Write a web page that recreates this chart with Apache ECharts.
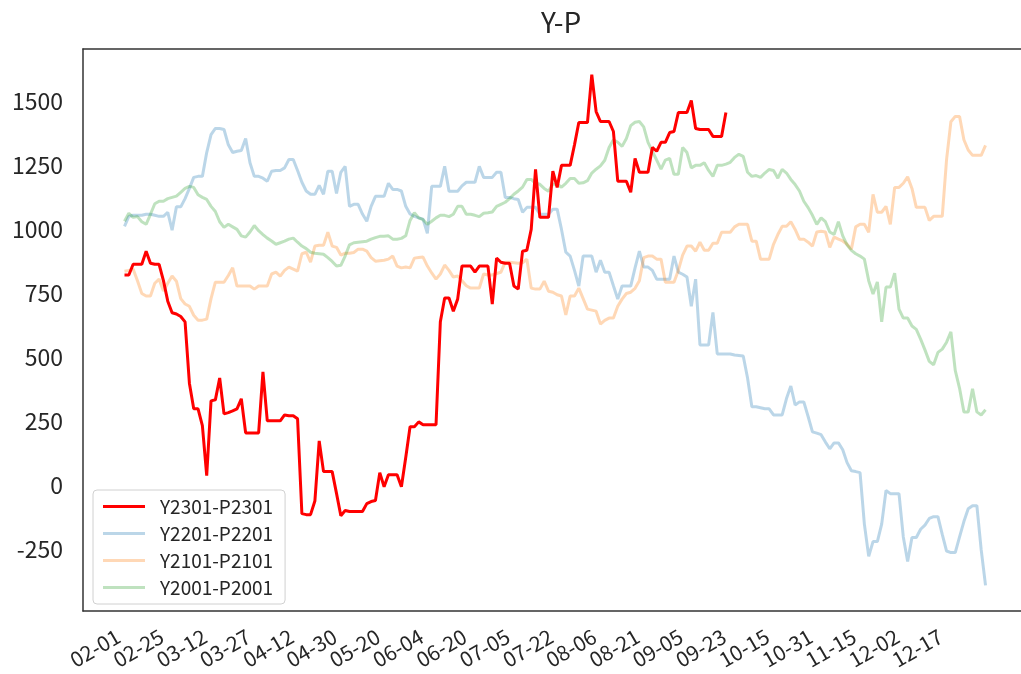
<!DOCTYPE html>
<html>
<head>
<meta charset="utf-8">
<script src="https://cdn.jsdelivr.net/npm/echarts@6/dist/echarts.min.js"></script>
<style>
  html, body { margin: 0; padding: 0; background: #fff; }
  #chart { width: 1021px; height: 674px; }
</style>
</head>
<body>
<div id="chart"></div>
<script>
// tick labels, one every 10 trading days
var tickLabels = ['02-01','02-25','03-12','03-27','04-12','04-30','05-20','06-04','06-20','07-05',
  '07-22','08-06','08-21','09-05','09-23','10-15','10-31','11-15','12-02','12-17'];

var y2301 = [822,822,864,864,864,915,868,864,864,800,720,675,670,660,639,400,300,300,234,39,
  331,335,420,280,285,292,300,339,206,206,206,206,444,253,253,253,253,276,273,273,
  261,-109,-113,-113,-60,175,55,55,55,-30,-117,-97,-101,-101,-101,-101,-70,-62,-58,51,
  -4,43,43,43,-4,110,230,230,249,238,238,238,238,640,732,732,681,728,857,857,
  857,833,857,857,857,709,888,872,868,868,779,767,915,919,1000,1234,1047,1047,1047,1227,
  1164,1250,1250,1250,1330,1417,1417,1417,1604,1460,1421,1421,1421,1382,1188,1188,1188,1145,1277,1223,
  1223,1223,1320,1305,1340,1340,1378,1382,1456,1456,1456,1503,1394,1390,1390,1390,1363,1363,1363,1456];

var y2201 = [1012,1051,1055,1055,1055,1059,1059,1055,1051,1051,1067,997,1088,1088,1120,1160,1203,1207,1207,1300,
  1370,1394,1394,1390,1330,1300,1305,1308,1355,1260,1207,1207,1200,1188,1227,1230,1230,1240,1273,1273,
  1230,1184,1150,1137,1137,1172,1137,1227,1227,1140,1223,1246,1090,1098,1098,1060,1032,1090,1129,1129,
  1129,1180,1156,1156,1150,1090,1060,1051,1045,1040,985,1168,1168,1168,1246,1149,1149,1149,1170,1184,
  1184,1184,1246,1203,1203,1203,1223,1223,1125,1125,1120,1117,1067,1086,1086,1086,1059,1059,1059,1079,
  1079,1000,911,896,840,779,896,896,896,833,880,833,833,780,728,779,779,779,850,915,
  853,853,840,806,806,806,806,896,833,825,814,700,806,549,549,549,676,514,514,514,
  514,510,508,506,420,308,308,304,300,300,276,276,276,340,389,315,327,327,270,210,
  205,199,170,144,167,167,140,90,58,55,51,-150,-276,-218,-218,-150,-19,-31,-31,-31,
  -200,-296,-202,-202,-170,-154,-128,-121,-121,-190,-255,-261,-261,-200,-140,-90,-78,-78,-250,-389];

var y2101 = [837,840,845,800,750,740,740,790,806,760,790,818,798,730,709,700,665,646,646,650,
  730,794,794,794,820,850,779,779,779,779,767,779,779,779,826,833,818,840,853,845,
  837,905,911,872,935,938,938,989,935,930,900,907,907,910,923,923,915,890,876,878,
  880,884,896,857,850,853,850,888,890,892,857,830,806,826,861,840,814,818,800,780,
  771,771,771,826,822,822,828,833,872,872,870,868,870,884,771,767,767,798,759,755,
  745,740,666,740,740,771,730,689,685,681,631,645,654,654,700,728,750,755,770,800,
  890,896,896,884,884,794,794,794,840,900,935,935,915,950,919,919,946,946,989,989,
  989,1010,1020,1020,1020,954,954,884,884,884,942,980,1012,1012,1030,1000,962,962,950,935,
  990,993,990,930,970,962,955,942,923,1010,1020,1020,989,1137,1067,1067,1090,1020,1164,1164,
  1180,1205,1160,1086,1086,1086,1035,1051,1051,1051,1273,1420,1441,1441,1350,1310,1289,1289,1289,1328];

var y2001 = [1032,1063,1047,1050,1030,1020,1059,1100,1110,1110,1120,1125,1130,1145,1160,1168,1164,1135,1125,1117,
  1090,1070,1030,1008,1020,1010,1000,975,970,990,1015,995,980,966,955,942,948,954,962,966,
  950,935,925,911,907,905,903,890,875,857,860,896,940,948,950,952,954,962,968,973,
  973,975,962,962,965,975,1035,1065,1045,1038,1020,1032,1045,1055,1055,1050,1059,1090,1090,1059,
  1059,1055,1050,1063,1065,1068,1090,1098,1106,1120,1137,1150,1165,1195,1195,1180,1176,1160,1149,1176,
  1176,1165,1180,1199,1199,1180,1182,1190,1220,1235,1248,1270,1320,1350,1340,1324,1355,1405,1418,1421,
  1400,1340,1305,1270,1235,1270,1277,1215,1215,1320,1300,1240,1250,1250,1260,1230,1207,1250,1250,1255,
  1262,1281,1293,1285,1223,1207,1210,1203,1220,1234,1230,1200,1234,1220,1195,1175,1150,1110,1085,1055,
  1020,1045,1030,990,980,1030,975,940,918,905,896,884,800,748,795,639,775,775,829,689,
  654,654,623,610,572,530,485,472,520,533,560,600,450,380,288,288,378,288,276,296];

var yTicks = [-250, 0, 250, 500, 750, 1000, 1250, 1500];
var xTicks = tickLabels.map(function (t, i) { return i * 10; });

function pairs(arr) {
	return arr.map(function (v, i) { return [i, v]; });
}

var chart = echarts.init(document.getElementById('chart'));
var font = "'Noto Sans CJK SC', sans-serif";
var frame = { show: true, onZero: false, lineStyle: { color: '#333', width: 1.5 } };

chart.setOption({
	animation: false,
	textStyle: { fontFamily: font },
	title: {
		text: 'Y-P',
		left: 556,
		textAlign: 'center',
		top: 3,
		textStyle: { fontSize: 28, fontWeight: 'normal', color: '#262626', fontFamily: font }
	},
	grid: { left: 83, top: 49, right: 0, bottom: 63 },
	legend: {
		orient: 'vertical',
		left: 93, top: 490,
		data: ['Y2301-P2301', 'Y2201-P2201', 'Y2101-P2101', 'Y2001-P2001'],
		icon: 'rect',
		itemWidth: 42, itemHeight: 3,
		itemGap: 8,
		padding: [7, 12, 7, 10],
		backgroundColor: 'rgba(255,255,255,0.85)',
		borderColor: '#d0d0d0', borderWidth: 1, borderRadius: 4,
		textStyle: { fontSize: 19, color: '#262626', padding: [0, 0, 0, 10], fontFamily: font }
	},
	xAxis: [{
		type: 'value',
		min: -9.59, max: 207.2,
		axisLine: frame,
		axisTick: { show: false },
		splitLine: { show: false },
		axisLabel: {
			customValues: xTicks,
			showMinLabel: true,
			showMaxLabel: true,
			rotate: 30,
			margin: 20,
			padding: [0, 7, 0, 0],
			fontSize: 21,
			color: '#262626',
			formatter: function (v) { return tickLabels[Math.round(v / 10)] || ''; }
		}
	}, {
		// top spine only
		type: 'value', position: 'top',
		min: -9.59, max: 207.2,
		axisLine: frame,
		axisTick: { show: false },
		axisLabel: { show: false },
		splitLine: { show: false }
	}],
	yAxis: {
		type: 'value',
		min: -489, max: 1704,
		axisLine: frame,
		axisTick: { show: false },
		splitLine: { show: false },
		axisLabel: {
			customValues: yTicks,
			showMinLabel: true,
			showMaxLabel: true,
			margin: 20,
			fontSize: 23,
			color: '#262626',
			formatter: function (v) { return String(v); }
		}
	},
	series: [
		{ name: 'Y2201-P2201', type: 'line', showSymbol: false, data: pairs(y2201),
		  lineStyle: { width: 3, color: 'rgba(31,119,180,0.3)' }, itemStyle: { color: 'rgba(31,119,180,0.3)' } },
		{ name: 'Y2101-P2101', type: 'line', showSymbol: false, data: pairs(y2101),
		  lineStyle: { width: 3, color: 'rgba(255,127,14,0.3)' }, itemStyle: { color: 'rgba(255,127,14,0.3)' } },
		{ name: 'Y2001-P2001', type: 'line', showSymbol: false, data: pairs(y2001),
		  lineStyle: { width: 3, color: 'rgba(44,160,44,0.3)' }, itemStyle: { color: 'rgba(44,160,44,0.3)' } },
		{ name: 'Y2301-P2301', type: 'line', showSymbol: false, data: pairs(y2301),
		  lineStyle: { width: 3, color: '#ff0000' }, itemStyle: { color: '#ff0000' } }
	]
});
</script>
</body>
</html>
